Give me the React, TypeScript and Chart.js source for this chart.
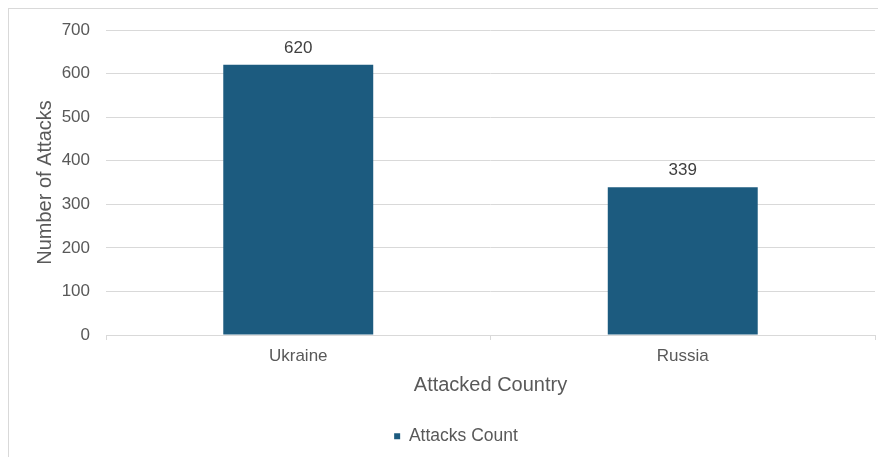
import React, { useEffect, useRef } from "react";
import { Chart, registerables } from "chart.js";

Chart.register(...registerables);

const countries = ["Ukraine", "Russia"];
const attackCounts = [620, 339];
const yTickMax = 700;
const yTickStep = 100;

const FONT = "'Liberation Sans', Arial, sans-serif";
const BAR_COLOR = "#1c5b7f";
const TEXT_COLOR = "#595959";
const GRID_COLOR = "#d9d9d9";

// Writes each bar's value just above it
const valueLabels = {
  id: "valueLabels",
  afterDatasetsDraw(chart: any) {
    const ctx = chart.ctx;
    const meta = chart.getDatasetMeta(0);
    const data = chart.data.datasets[0].data as number[];
    ctx.save();
    ctx.font = `17px ${FONT}`;
    ctx.fillStyle = "#404040";
    ctx.textAlign = "center";
    ctx.textBaseline = "bottom";
    meta.data.forEach((bar: any, i: number) => {
      ctx.fillText(String(data[i]), bar.x, bar.y - 8);
    });
    ctx.restore();
  },
};

export default function App() {
  const canvasRef = useRef<HTMLCanvasElement | null>(null);

  useEffect(() => {
    if (!canvasRef.current) return;
    const chart = new Chart(canvasRef.current, {
      type: "bar",
      data: {
        labels: countries,
        datasets: [
          {
            label: "Attacks Count",
            data: attackCounts,
            backgroundColor: BAR_COLOR,
            borderWidth: 0,
            barPercentage: 0.39,
            categoryPercentage: 1,
          },
        ],
      },
      options: {
        animation: false,
        responsive: true,
        maintainAspectRatio: false,
        layout: { padding: { left: 28, right: 11, top: 21, bottom: 2 } },
        plugins: {
          tooltip: { enabled: false },
          legend: {
            position: "bottom",
            labels: {
              boxWidth: 6,
              boxHeight: 6,
              color: TEXT_COLOR,
              font: { family: FONT, size: 17.5 },
              padding: 10,
            },
          },
        },
        scales: {
          x: {
            offset: true,
            grid: {
              offset: true,
              drawOnChartArea: false,
              drawTicks: true,
              tickLength: 5,
              color: GRID_COLOR,
            },
            border: { display: true, color: GRID_COLOR },
            ticks: {
              color: TEXT_COLOR,
              font: { family: FONT, size: 17 },
              padding: 6,
            },
            title: {
              display: true,
              text: "Attacked Country",
              color: TEXT_COLOR,
              font: { family: FONT, size: 20 },
              padding: { top: 0, bottom: 20 },
            },
            afterFit(scale: any) {
              scale.height = 82.5;
            },
          },
          y: {
            min: 0,
            max: yTickMax,
            grid: { color: GRID_COLOR, drawTicks: false },
            border: { display: false },
            ticks: {
              stepSize: yTickStep,
              color: TEXT_COLOR,
              font: { family: FONT, size: 17 },
              padding: 16,
            },
            title: {
              display: true,
              text: "Number of Attacks",
              color: TEXT_COLOR,
              font: { family: FONT, size: 20 },
              padding: { top: -4, bottom: 0 },
            },
            afterFit(scale: any) {
              scale.width = 69;
              scale.paddingTop = 0;
              scale.paddingBottom = 0;
            },
          },
        },
      },
      plugins: [valueLabels],
    });
    return () => chart.destroy();
  }, []);

  return (
    <div
      style={{
        border: `1px solid ${GRID_COLOR}`,
        width: 880,
        height: 460,
        boxSizing: "border-box",
        background: "#fff",
      }}
    >
      <div style={{ position: "relative", width: 877, height: 448 }}>
        <canvas ref={canvasRef} />
      </div>
    </div>
  );
}
